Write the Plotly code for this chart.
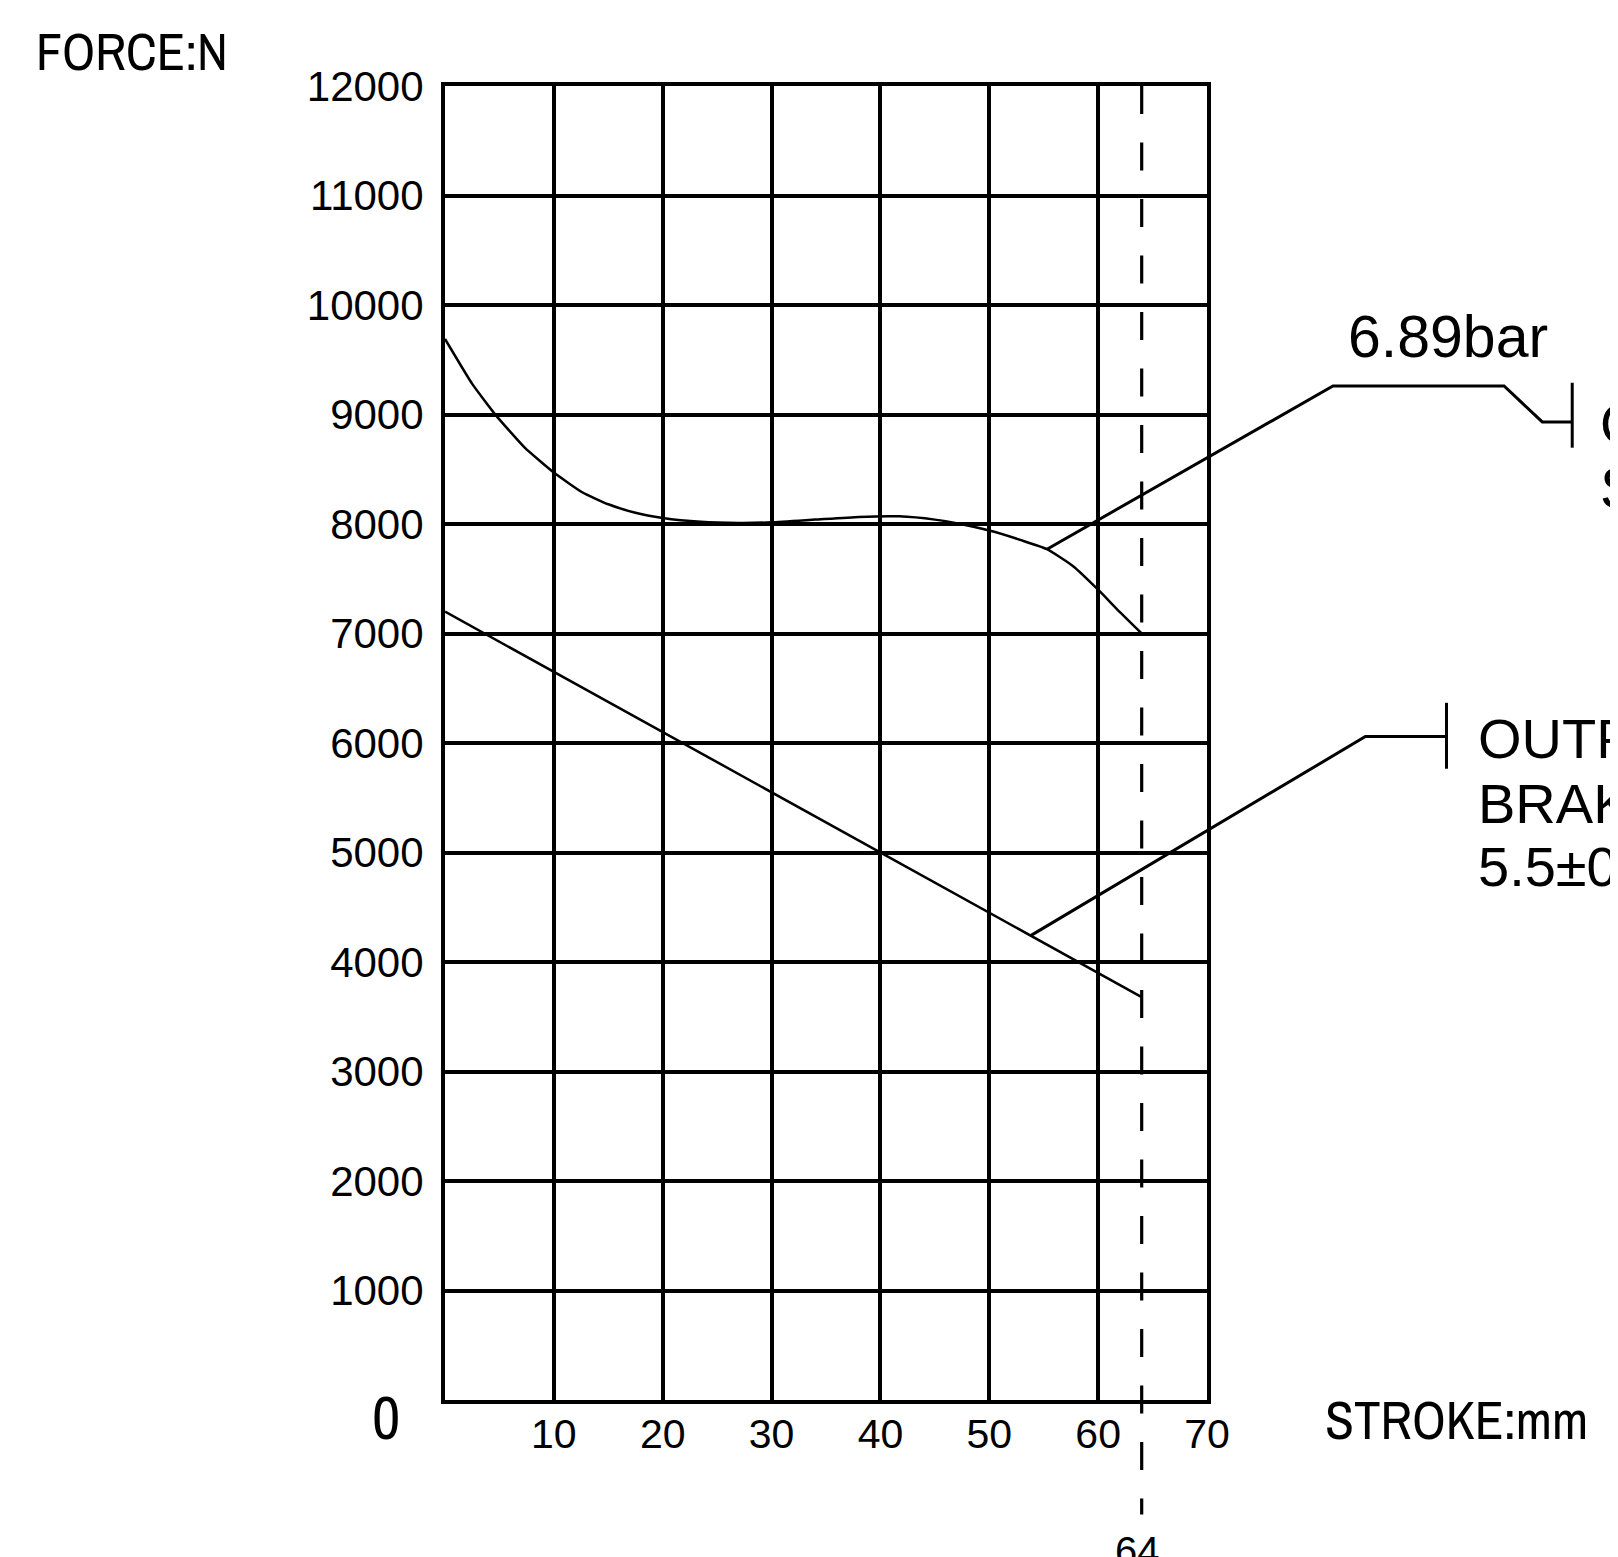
import plotly.graph_objects as go

# ---------------- data ----------------
stroke_service = [0, 2.5, 4.7, 7.3, 10, 12.6, 15, 17.4, 20, 23.5, 27, 30, 34, 38,
                  41.7, 45, 47.1, 50, 53, 55.3, 57.7, 60, 62, 64]
force_service = [9690, 9280, 8990, 8700, 8470, 8290, 8180, 8105, 8055, 8020, 8010,
                 8015, 8040, 8065, 8070, 8040, 8005, 7940, 7850, 7770, 7615, 7400,
                 7195, 7000]
stroke_spring = [0, 64]
force_spring = [7200, 3680]
stroke_limit = 64

x_ticks = [10, 20, 30, 40, 50, 60, 70]
y_ticks = [1000, 2000, 3000, 4000, 5000, 6000, 7000, 8000, 9000, 10000, 11000, 12000]
y_tick_text = [str(v) for v in y_ticks]
x_tick_text = [str(v) for v in x_ticks]

# ---------------- layout geometry (page pixels; page has an 8px body margin) ----------------
OFF = 8
W, H = 1618 - OFF, 1557 - OFF
PL, PR, PT, PB = 445.0 - OFF, 1207.0 - OFF, 86.0 - OFF, 1400.0 - OFF
XMAX, YMAX = 70, 12000
pxu = (PR - PL) / XMAX
pyu = (PB - PT) / YMAX
x2_range = [-PL / pxu, (W - PL) / pxu]
y2_range = [-(H - PB) / pyu, YMAX + PT / pyu]

# leader lines (same data units, drawn on full-page helper axes)
lead_up_x = [55.3, 81.57, 97.29, 100.80, 103.55]
lead_up_y = [7770, 9260, 9260, 8932, 8932]
bar_up_x = [103.55, 103.55]
bar_up_y = [9290, 8697]
lead_lo_x = [53.8, 84.55, 92.0]
lead_lo_y = [4241, 6059, 6059]
bar_lo_x = [92.0, 92.0]
bar_lo_y = [6367, 5765]

BLACK = "#000000"
FONT = "Liberation Sans"
NARROW = "Archivo Narrow, Liberation Sans Narrow, Liberation Sans"

fig = go.Figure()

fig.add_trace(go.Scatter(x=stroke_service, y=force_service, mode="lines",
                         line=dict(color=BLACK, width=2.5, shape="spline", smoothing=0.45),
                         xaxis="x", yaxis="y", hoverinfo="skip"))
fig.add_trace(go.Scatter(x=stroke_spring, y=force_spring, mode="lines",
                         line=dict(color=BLACK, width=2.5),
                         xaxis="x", yaxis="y", hoverinfo="skip"))

fig.add_trace(go.Scatter(x=[stroke_limit, stroke_limit], y=[YMAX, -1046], mode="lines",
                         line=dict(color=BLACK, width=3.2, dash="28px,28.5px"),
                         xaxis="x2", yaxis="y2", hoverinfo="skip"))

for lx, ly in [(lead_up_x, lead_up_y), (bar_up_x, bar_up_y),
               (lead_lo_x, lead_lo_y), (bar_lo_x, bar_lo_y)]:
    fig.add_trace(go.Scatter(x=lx, y=ly, mode="lines",
                             line=dict(color=BLACK, width=3),
                             xaxis="x2", yaxis="y2", hoverinfo="skip"))

axis_common = dict(showgrid=True, gridcolor=BLACK, gridwidth=3.5,
                   showline=True, linecolor=BLACK, linewidth=4, mirror=True,
                   zeroline=False, ticks="", fixedrange=True, automargin=False)

fig.update_layout(
    template="none",
    width=W, height=H,
    margin=dict(l=0, r=0, t=0, b=0),
    paper_bgcolor="white", plot_bgcolor="rgba(0,0,0,0)",
    showlegend=False,
    xaxis=dict(domain=[PL / W, PR / W], range=[0, XMAX], tickvals=x_ticks,
               ticktext=x_tick_text,
               tickfont=dict(family=FONT, size=41, color=BLACK),
               ticklabelstandoff=-5, anchor="y", **axis_common),
    yaxis=dict(domain=[(H - PB) / H, (H - PT) / H], range=[0, YMAX], tickvals=y_ticks,
               ticktext=y_tick_text,
               tickfont=dict(family=FONT, size=42, color=BLACK),
               ticklabelstandoff=9, anchor="x", **axis_common),
    xaxis2=dict(domain=[0, 1], range=x2_range, visible=False, anchor="y2",
                fixedrange=True, automargin=False),
    yaxis2=dict(domain=[0, 1], range=y2_range, visible=False, anchor="x2",
                fixedrange=True, automargin=False),
)


def label(text, px, py, size, xanchor="left", family=FONT):
    # px, py: page pixel position of the text's left edge (or centre) and vertical centre
    fig.add_annotation(text=text, x=(px - OFF) / W, y=1 - (py - OFF) / H,
                       xref="paper", yref="paper",
                       xanchor=xanchor, yanchor="middle", showarrow=False,
                       font=dict(family=family, size=size, color=BLACK))


label("FORCE:N", 34, 51, 52, family=NARROW)
label("STROKE:mm", 1323, 1420, 53, family=NARROW)
label("0", 386, 1416, 62, xanchor="center", family=NARROW)
label("6.89bar", 1346, 337, 59)
label("OUTPUT FORCE OF", 1598, 423, 58)
label("SERVICE BRAKE", 1598, 487, 58)
label("OUTPUT FORCE OF", 1476, 738, 56)
label("BRAKE SPRING", 1476, 803, 56)
label("5.5±0.5bar", 1476, 866, 56)
label("64", 1137, 1551, 40, xanchor="center")

fig.write_html("out.html")
